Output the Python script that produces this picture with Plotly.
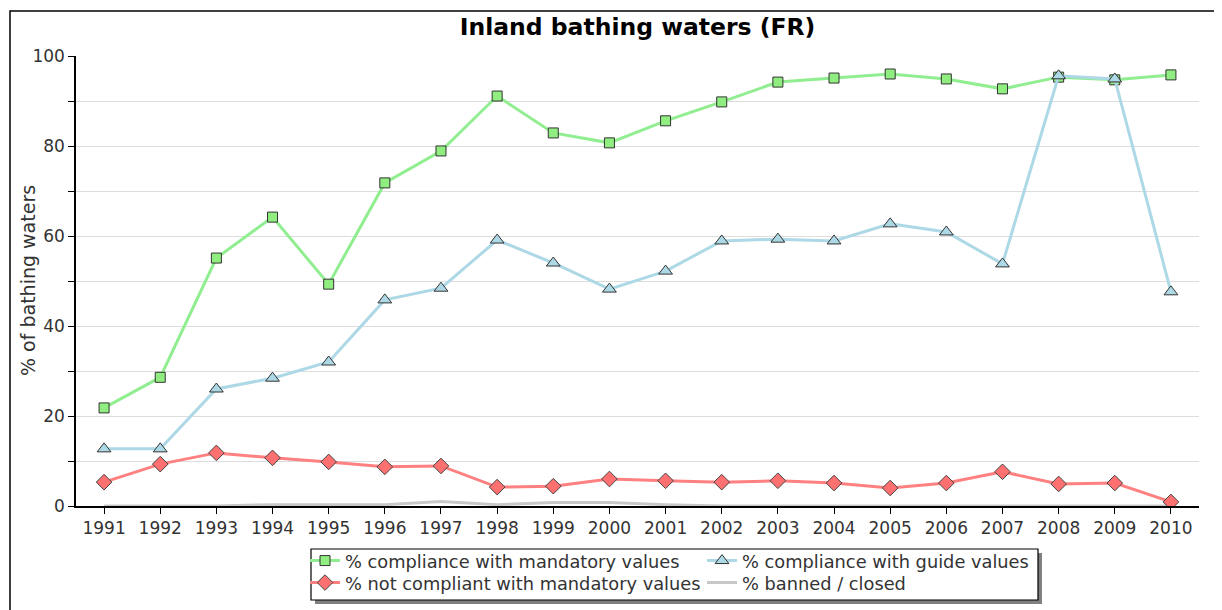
import plotly.graph_objects as go

years = list(range(1991, 2011))
mandatory = [21.8, 28.6, 55.1, 64.2, 49.3, 71.8, 78.9, 91.1, 82.9, 80.7,
             85.6, 89.8, 94.2, 95.1, 96.0, 94.9, 92.7, 95.3, 94.7, 95.8]
guide = [12.7, 12.7, 26.0, 28.4, 32.0, 45.8, 48.4, 59.1, 54.0, 48.2,
         52.2, 58.9, 59.3, 58.9, 62.7, 60.9, 53.8, 95.6, 94.9, 47.6]
not_compliant = [5.3, 9.3, 11.8, 10.7, 9.8, 8.7, 8.9, 4.2, 4.4, 6.0,
                 5.6, 5.3, 5.6, 5.1, 4.0, 5.1, 7.6, 4.9, 5.1, 0.9]
banned = [0, 0, 0, 0.3, 0.3, 0.3, 1.0, 0.3, 0.8, 0.8,
          0.3, 0, 0, 0, 0, 0, 0, 0, 0, 0]

names = ["% compliance with mandatory values", "% compliance with guide values",
         "% not compliant with mandatory values", "% banned / closed"]

FONT = "DejaVu Sans"
fig = go.Figure()
fig.add_trace(go.Scatter(x=years, y=banned, name=names[3], mode="lines",
                         line=dict(color="#c8c8c8", width=3), showlegend=False))
fig.add_trace(go.Scatter(x=years, y=mandatory, name=names[0], mode="lines+markers",
                         line=dict(color="#90ee90", width=3), legend="legend",
                         marker=dict(symbol="square", size=10, color="#90ee80",
                                     line=dict(color="#333333", width=1))))
fig.add_trace(go.Scatter(x=years, y=guide, name=names[1], mode="lines+markers",
                         line=dict(color="#add8e6", width=3), legend="legend",
                         marker=dict(symbol="triangle-up", size=12, color="#add8e6",
                                     line=dict(color="#333333", width=1))))
fig.add_trace(go.Scatter(x=years, y=not_compliant, name=names[2], mode="lines+markers",
                         line=dict(color="#ff8080", width=3), legend="legend2",
                         marker=dict(symbol="diamond", size=12, color="#ff7070",
                                     line=dict(color="#444444", width=1))))
# legend-only entry for banned (keeps legend order)
fig.add_trace(go.Scatter(x=[None], y=[None], name=names[3], mode="lines",
                         line=dict(color="#c8c8c8", width=3), legend="legend2"))

OFF = 8  # page body margin
W, H = 1222 - OFF, 610 - OFF
# plot area in reference pixel coords
PX0, PX1, PY0, PY1 = 76, 1199, 56, 506
L, R, T, B = PX0 - OFF, W - (PX1 - OFF), PY0 - OFF, H - (PY1 - OFF)
pw, ph = PX1 - PX0, PY1 - PY0

def px_x(x):
    return (x - PX0) / pw

def px_y(y):
    return (PY1 - y) / ph

shapes = [
    # outer frame
    dict(type="rect", xref="paper", yref="paper", x0=px_x(10), x1=px_x(1219),
         y0=px_y(640), y1=px_y(11), line=dict(color="black", width=1.5),
         fillcolor="rgba(0,0,0,0)", layer="below"),
    # legend shadow
    dict(type="rect", xref="paper", yref="paper", x0=px_x(315), x1=px_x(1042),
         y0=px_y(604), y1=px_y(553), line=dict(width=0),
         fillcolor="#808080", layer="below"),
    # legend box
    dict(type="rect", xref="paper", yref="paper", x0=px_x(311), x1=px_x(1038),
         y0=px_y(600), y1=px_y(549), line=dict(color="black", width=1.2),
         fillcolor="white", layer="below"),
]

annotations = [
    dict(text="% of bathing waters", xref="paper", yref="paper",
         x=px_x(28), y=px_y(281), xanchor="center", yanchor="middle",
         textangle=-90, showarrow=False,
         font=dict(family=FONT, size=19, color="#333333")),
]

leg_common = dict(orientation="h", xanchor="left", yanchor="middle",
                  bgcolor="rgba(0,0,0,0)", borderwidth=0,
                  font=dict(family=FONT, size=17.8, color="#333333"),
                  entrywidth=352, entrywidthmode="pixels",
                  tracegroupgap=0, itemwidth=30)

fig.update_layout(
    template="none",
    width=W, height=H,
    margin=dict(l=L, r=R, t=T, b=B, autoexpand=False),
    paper_bgcolor="white", plot_bgcolor="white",
    font=dict(family=FONT, size=16, color="#333333"),
    title=dict(text="<b>Inland bathing waters (FR)</b>", x=0.5, xanchor="center",
               xref="paper",
               y=1 - (27 - OFF) / H, yanchor="middle",
               font=dict(family=FONT, size=23.5, color="black")),
    xaxis=dict(range=[1990.5, 2010.5], tickmode="array", tickvals=years,
               ticktext=[str(y) for y in years], showgrid=False, zeroline=False,
               showline=True, linecolor="black", linewidth=1.5, automargin=False,
               ticks="outside", ticklen=6, tickcolor="black",
               tickfont=dict(size=17, color="#333333")),
    yaxis=dict(range=[0, 100], tick0=0, dtick=20, showgrid=True, gridcolor="#dddddd",
               gridwidth=1, automargin=False,
               zeroline=False, showline=True, linecolor="black", linewidth=1.5,
               ticks="outside", ticklen=6, tickcolor="black",
               tickfont=dict(size=17, color="#333333"),
               minor=dict(dtick=10, showgrid=True, gridcolor="#dddddd",
                          ticks="outside", ticklen=6, tickcolor="black")),
    legend=dict(x=px_x(305), y=px_y(561), **leg_common),
    legend2=dict(x=px_x(305), y=px_y(583), **leg_common),
    shapes=shapes,
    annotations=annotations,
)

fig.write_html("out.html")
